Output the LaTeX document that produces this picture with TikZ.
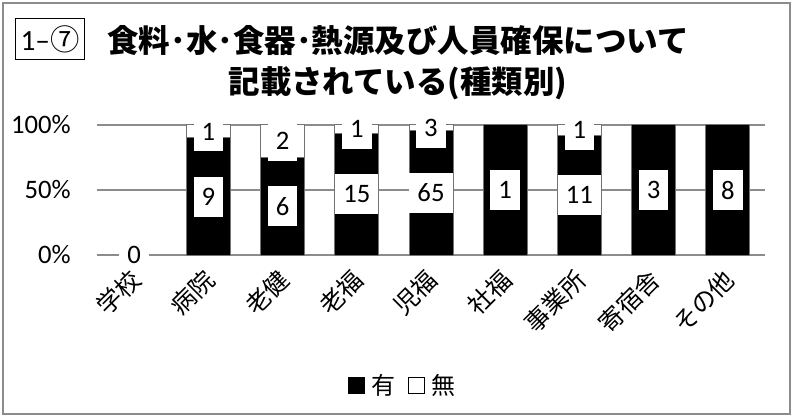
\documentclass[tikz,border=0pt]{standalone}
\usepackage{fontspec}
\setmainfont{Carlito}
\newfontfamily\jp{Noto Sans CJK JP}
\usetikzlibrary{positioning}

\tikzset{
  gridline/.style={draw=black!45, line width=1pt},
  segyes/.style={fill=black, draw=black!55, line width=0.75pt},
  segno/.style={fill=white, draw=black!55, line width=0.75pt},
  val/.style={fill=white, inner xsep=6pt, inner ysep=0pt, minimum height=30pt, font=\fontsize{20}{24}\selectfont},
  cat/.style={rotate=45, anchor=east, inner sep=0pt, font=\jp\fontsize{18.5}{22}\selectfont},
  tick/.style={anchor=east, inner sep=0pt, font=\fontsize{20}{24}\selectfont},
  legkey/.style={draw=black, line width=0.75pt, minimum size=12pt, inner sep=0pt},
  legtext/.style={inner sep=0pt, font=\jp\fontsize{18}{22}\selectfont},
}

\begin{document}
\begin{tikzpicture}[x=0.75pt, y=-0.75pt]
\useasboundingbox (0,0) rectangle (795,417);
\draw[draw=black!45, line width=1.5pt] (3,3) rectangle (790,414);

% title
\node[draw, line width=1pt, minimum width=52pt, minimum height=31pt, inner sep=0pt,
  font=\fontsize{22}{26}\selectfont] (num) at (50,39) {1–{\jp ⑦}};
\node[font=\jp\bfseries\fontsize{23.6}{28}\selectfont] (t1) at (398,41) {食料･水･食器･熱源及び人員確保について};
\node[font=\jp\bfseries\fontsize{23.6}{28}\selectfont] (t2) at (398,83) {記載されている(種類別)};

% axis
\draw[gridline] (97,125) -- (765,125);
\draw[gridline] (97,190) -- (765,190);
\draw[gridline] (97,255) -- (765,255);
\node[tick] (p100) at (71,125) {100\%};
\node[tick] (p50) at (71,190) {50\%};
\node[tick] (p0) at (71,255) {0\%};

% bars
\filldraw[segyes] (186.3,255) rectangle (230.3,138);
\filldraw[segno] (186.3,138) rectangle (230.3,125);
\filldraw[segyes] (260.6,255) rectangle (304.6,157.5);
\filldraw[segno] (260.6,157.5) rectangle (304.6,125);
\filldraw[segyes] (334.8,255) rectangle (378.8,133.1);
\filldraw[segno] (334.8,133.1) rectangle (378.8,125);
\filldraw[segyes] (409,255) rectangle (453,130.7);
\filldraw[segno] (409,130.7) rectangle (453,125);
\filldraw[segyes] (483.2,255) rectangle (527.2,125);
\filldraw[segyes] (557.4,255) rectangle (601.4,135.8);
\filldraw[segno] (557.4,135.8) rectangle (601.4,125);
\filldraw[segyes] (631.7,255) rectangle (675.7,125);
\filldraw[segyes] (705.9,255) rectangle (749.9,125);

% values
\node[val] (v1) at (134.1,255) {0};
\node[val] (v2a) at (208.3,196.5) {9};
\node[val] (v2b) at (208.3,131.5) {1};
\node[val] (v3a) at (282.6,206.3) {6};
\node[val] (v3b) at (282.6,141.3) {2};
\node[val] (v4a) at (356.8,194.1) {15};
\node[val] (v4b) at (356.8,129.1) {1};
\node[val] (v5a) at (431,192.9) {65};
\node[val] (v5b) at (431,127.9) {3};
\node[val] (v6) at (505.2,190) {1};
\node[val] (v7a) at (579.4,195.4) {11};
\node[val] (v7b) at (579.4,130.4) {1};
\node[val] (v8) at (653.7,190) {3};
\node[val] (v9) at (727.9,190) {8};

% categories
\node[cat] (c1) at (136,275) {学校};
\node[cat] (c2) at (210.3,275) {病院};
\node[cat] (c3) at (284.6,275) {老健};
\node[cat] (c4) at (358.8,275) {老福};
\node[cat] (c5) at (433,275) {児福};
\node[cat] (c6) at (507.2,275) {社福};
\node[cat] (c7) at (581.4,275) {事業所};
\node[cat] (c8) at (655.7,275) {寄宿舎};
\node[cat] (c9) at (729.9,275) {その他};

% legend
\node[legkey, fill=black] (kyes) at (356,385) {};
\node[legtext, right=5pt of kyes] (lyes) {有};
\node[legkey, fill=white] (kno) at (416,385) {};
\node[legtext, right=5pt of kno] (lno) {無};

\end{tikzpicture}
\end{document}
